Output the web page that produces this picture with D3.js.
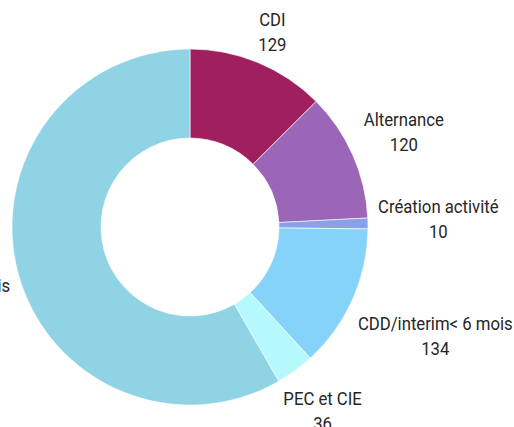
<!DOCTYPE html>
<html>
<head>
<meta charset="utf-8">
<script src="https://cdn.jsdelivr.net/npm/d3@7"></script>
<style>
  body { margin: 0; background: #fff; }
  text { font-family: "Roboto", "Liberation Sans", sans-serif; fill: #262626; }
</style>
</head>
<body>
<div id="chart"></div>
<script>
// values (big slice estimated from its angle)
var categories = ["CDI", "Alternance", "Création activité", "CDD/interim< 6 mois", "PEC et CIE", "CDD/interim> 6 mois"];
var values = [129, 120, 10, 134, 36, 600];
var colors = ["#a01f5e", "#9c66b8", "#8aa0e7", "#86d3f9", "#b6f9fd", "#8fd3e4"];

// label layout only: gap from the ring and small nudges
var labelGap = [12, 18, 10, 23, 19, 20];
var labelNudge = [[4, 3], [-2, -6], [0, -4], [-9, 17], [-7, 5], [9, 13]];

var width = 514, height = 427;
var cx = 190, cy = 227, R = 178, r = 89;
var fontSize = 19, lineH = 25, squeeze = 0.88;

var svg = d3.select("#chart").append("svg")
    .attr("width", width)
    .attr("height", height);

var g = svg.append("g").attr("transform", "translate(" + cx + "," + cy + ")");

var pie = d3.pie().sort(null).value(function(d) { return d; });
var arcs = pie(values);

var arc = d3.arc().innerRadius(r).outerRadius(R);

g.selectAll("path")
  .data(arcs)
  .enter()
  .append("path")
    .attr("d", arc)
    .attr("fill", function(d, i) { return colors[i]; })
    .attr("stroke", "#fff")
    .attr("stroke-width", 0.6);

// labels: two lines, box placed outside the mid angle
var labels = g.selectAll("g.lab")
  .data(arcs)
  .enter()
  .append("g")
    .attr("class", "lab");

labels.each(function(d, i) {
  var el = d3.select(this);
  var t1 = el.append("text").attr("text-anchor", "middle").style("font-size", fontSize + "px")
      .attr("dy", "0.35em").text(categories[i]);
  var t2 = el.append("text").attr("text-anchor", "middle").style("font-size", fontSize + "px")
      .attr("dy", "0.35em").attr("y", lineH).text(values[i]);
  var w = Math.max(t1.node().getComputedTextLength(), t2.node().getComputedTextLength()) * squeeze;
  var hw = w / 2, hh = lineH;
  var a = (d.startAngle + d.endAngle) / 2;
  var rr = R + labelGap[i];
  var px = Math.sin(a) * rr, py = -Math.cos(a) * rr;
  var bx = px + Math.sin(a) * hw + labelNudge[i][0];
  var by = py - Math.cos(a) * hh + labelNudge[i][1];
  el.attr("transform", "translate(" + bx + "," + (by - lineH / 2) + ") scale(" + squeeze + ",1)");
});
</script>
</body>
</html>
